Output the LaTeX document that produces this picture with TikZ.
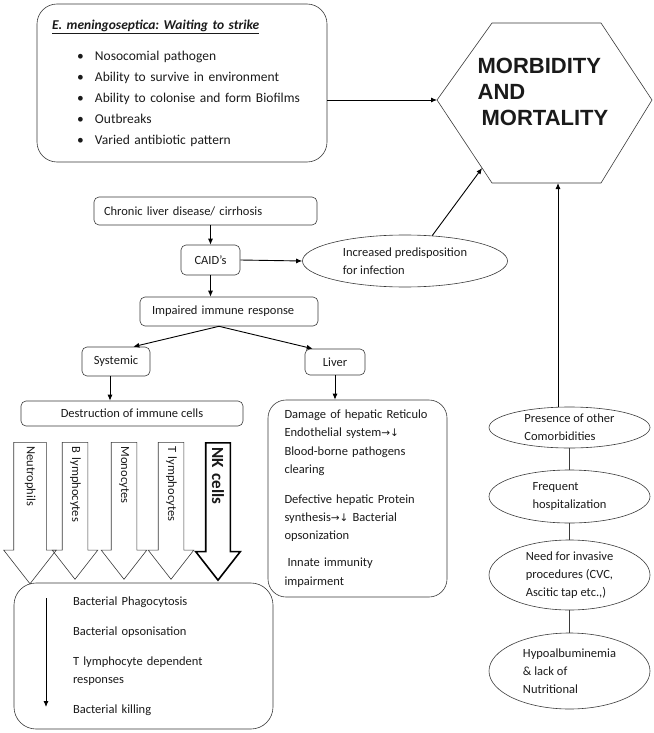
\documentclass[tikz,border=0pt]{standalone}
\usepackage{fontspec}
\setmainfont{Carlito}
\newfontfamily\dvfont{DejaVu Sans}
\newfontfamily\hexfont{Liberation Sans}
\usepackage{tikz}
\usetikzlibrary{
  shapes.geometric,
  shapes.arrows,
  arrows.meta,
  positioning,
  calc
}
\usepackage{xcolor}
\definecolor{linegray}{HTML}{3A3A3A}
\definecolor{textblack}{HTML}{1A1A1A}
\frenchspacing
\tikzset{
  box/.style={
    rectangle, draw=linegray, rounded corners=5pt,
    font=\fontsize{12.5}{18}\selectfont, text=textblack,
    inner sep=0pt, line width=0.6pt
  },
  bigbox/.style={
    rectangle, draw=linegray, rounded corners=22pt,
    font=\fontsize{12.5}{18}\selectfont, text=textblack,
    inner sep=0pt, align=left, line width=0.6pt
  },
  arrow/.style={-{Latex[length=6pt, width=5pt]}, line width=0.9pt},
  link/.style={draw=linegray, line width=0.6pt},
}

\begin{document}
\begin{tikzpicture}[
  x=1pt, y=-1pt,
  oval/.style={ellipse, draw=linegray, font=\fontsize{12.5}{18}\selectfont, text=textblack, align=left, inner xsep=0pt, inner ysep=-10pt, line width=0.6pt},
  cellarrow/.style={single arrow, draw=linegray, rotate=-90, anchor=tail, single arrow head extend=10pt, single arrow tip angle=76, font=\fontsize{12.5}{15}\selectfont, text=textblack, text width=112pt, align=left, inner xsep=4pt, inner ysep=6.5pt, text height=9pt, text depth=3pt, line width=0.6pt},
]
\useasboundingbox (0,0) rectangle (653,733);

% Pathogen box
\node[bigbox, rounded corners=20pt, minimum width=290pt, minimum height=158pt, text width=260pt, font=\fontsize{13.5}{20.8}\selectfont] (strike) at (182,83) {\underline{\textbf{\textit{E. meningoseptica: Waiting to strike}}}\\[11pt]
\hspace*{25pt}\makebox[18pt][l]{\textbullet}Nosocomial pathogen\\
\hspace*{25pt}\makebox[18pt][l]{\textbullet}Ability to survive in environment\\
\hspace*{25pt}\makebox[18pt][l]{\textbullet}Ability to colonise and form Biofilms\\
\hspace*{25pt}\makebox[18pt][l]{\textbullet}Outbreaks\\
\hspace*{25pt}\makebox[18pt][l]{\textbullet}Varied antibiotic pattern};

% Outcome hexagon
\coordinate (hexW) at (437,100);
\coordinate (hexNW) at (492,23);
\coordinate (hexNE) at (601,23);
\coordinate (hexE) at (652,100);
\coordinate (hexSE) at (601,183);
\coordinate (hexSW) at (492,183);
\coordinate (hexB) at (558,183);
\coordinate (hexL) at ($(hexW)!0.82!(hexSW)$);
\draw[link] (hexW) -- (hexNW) -- (hexNE) -- (hexE) -- (hexSE) -- (hexSW) -- cycle;
\node[font=\hexfont\bfseries\fontsize{22}{26}\selectfont, text=textblack, align=left] (mm) at (543,92) {MORBIDITY\\AND\\\hspace*{4pt}MORTALITY};

% Liver disease chain
\node[box, minimum width=223pt, minimum height=28pt, text width=203pt, align=left] (chronic) at (205.5,211) {Chronic liver disease/ cirrhosis};
\node[box, minimum width=59pt, minimum height=30pt] (caid) at (210.5,260) {CAID’s};
\node[oval, minimum width=205pt, minimum height=52pt] (pred) at (405,261) {Increased predisposition\\for infection};
\node[box, minimum width=178pt, minimum height=29pt, text width=154pt, align=left] (impaired) at (229,311.5) {Impaired immune response};
\node[box, minimum width=68pt, minimum height=29pt] (systemic) at (116,361.5) {Systemic};
\node[box, minimum width=60pt, minimum height=26pt] (liver) at (335,362) {Liver};
\node[box, minimum width=222pt, minimum height=25pt] (destruction) at (132,413.5) {Destruction of immune cells};

% Cell arrows
\node[cellarrow, inner ysep=10pt] (neutro) at (30,442) {Neutrophils};
\node[cellarrow] (blym) at (75,442) {B lymphocytes};
\node[cellarrow] (mono) at (124,442) {Monocytes};
\node[cellarrow] (tlym) at (171,442) {T lymphocytes};
\node[cellarrow, draw=black, line width=1.6pt, font=\bfseries\fontsize{17}{20}\selectfont, text height=12pt, text depth=0pt, inner ysep=5.5pt] (nk) at (218,442) {NK cells};

% Effects
\node[bigbox, minimum width=259pt, minimum height=146pt, text width=141pt] (killing) at (143.5,656) {Bacterial Phagocytosis\\[12pt]
Bacterial opsonisation\\[12pt]
T lymphocyte dependent\\
responses\\[12pt]
Bacterial killing};
\coordinate (dtop) at (46,598);
\coordinate (dbot) at (46,707);
\draw[arrow] (dtop) -- (dbot);

\node[bigbox, rounded corners=18pt, minimum width=179pt, minimum height=197pt, text width=146pt, font=\fontsize{12.5}{18.3}\selectfont] (damage) at (357.5,498.5) {Damage of hepatic Reticulo\\
Endothelial system{\dvfont\fontsize{10.5}{18}\selectfont →↓}\\
Blood-borne pathogens\\
clearing\\[11.7pt]
Defective hepatic Protein\\
synthesis{\dvfont\fontsize{10.5}{18}\selectfont →↓} Bacterial\\
opsonization\\[8.7pt]
\hspace*{3pt}Innate immunity\\
impairment};

% Risk factors
\node[oval, minimum width=161pt, minimum height=41pt] (comorb) at (569.5,427.5) {Presence of other\\Comorbidities};
\node[oval, minimum width=161pt, minimum height=53pt] (hosp) at (569.5,496.5) {Frequent\\hospitalization};
\node[oval, minimum width=161pt, minimum height=70pt] (invasive) at (569.5,575) {Need for invasive\\procedures (CVC,\\Ascitic tap etc.,)};
\node[oval, minimum width=161pt, minimum height=76pt] (hypo) at (569.5,671) {Hypoalbuminemia\\\& lack of\\Nutritional};

% Connections
\draw[arrow] (strike.east |- hexW) -- (hexW);
\draw[arrow] (chronic.south -| caid) -- (caid.north);
\draw[arrow] (caid.south) -- (caid.south |- impaired.north);
\draw[arrow] (caid.east) -- (pred.west);
\draw[arrow] (pred.43) -- (hexL);
\draw[arrow] ([xshift=-10pt]impaired.south) -- ([xshift=-17pt]systemic.north east);
\draw[arrow] ([xshift=-10pt]impaired.south) -- ([xshift=8pt]liver.north west);
\draw[arrow] ([xshift=-6pt]systemic.south) -- ([xshift=-6pt]systemic.south |- destruction.north);
\draw[arrow] (liver.south) -- (liver.south |- damage.north);
\draw[arrow] (hexB |- comorb.north) -- (hexB);
\draw[link] (comorb.south) -- (hosp.north);
\draw[link] (hosp.south) -- (invasive.north);
\draw[link] (invasive.south) -- (hypo.north);

\end{tikzpicture}
\end{document}
